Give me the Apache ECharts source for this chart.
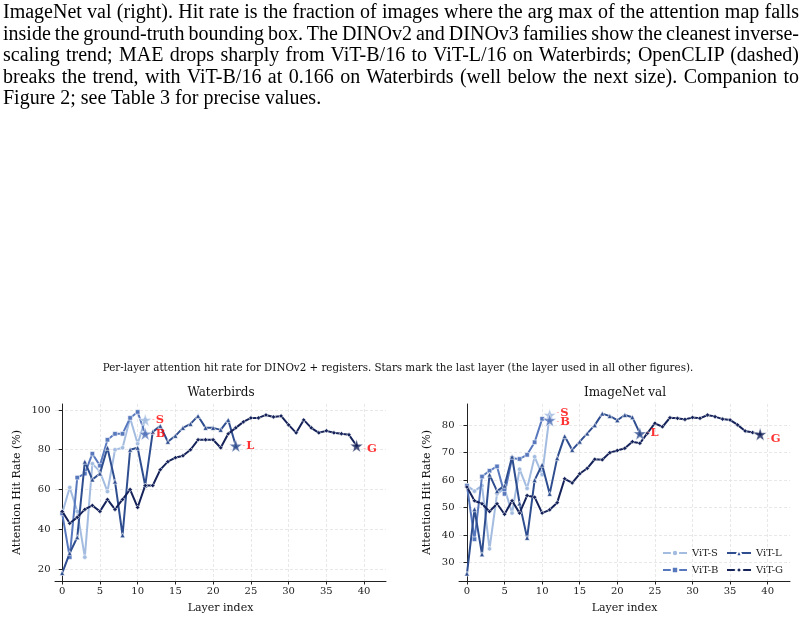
<!DOCTYPE html>
<html>
<head>
<meta charset="utf-8">
<script src="https://cdn.jsdelivr.net/npm/echarts@6/dist/echarts.min.js"></script>
<style>
  html, body { margin: 0; padding: 0; background: #fff; }
  #caption {
    position: absolute; left: 3px; top: 1px; width: 796px; z-index: 2;
    font-family: 'Liberation Serif', 'Times New Roman', serif;
    font-size: 20px; line-height: 21.5px; color: #000;
  }
  #caption .j { text-align: justify; text-align-last: justify; word-spacing: -3px; }
  #chart { position: absolute; left: 0; top: 0; width: 807px; height: 621px; }
</style>
</head>
<body>
<div id="caption">
  <div class="j">ImageNet val (right). Hit rate is the fraction of images where the arg max of the attention map falls</div>
  <div class="j">inside the ground-truth bounding box. The DINOv2 and DINOv3 families show the cleanest inverse-</div>
  <div class="j">scaling trend; MAE drops sharply from ViT-B/16 to ViT-L/16 on Waterbirds; OpenCLIP (dashed)</div>
  <div class="j">breaks the trend, with ViT-B/16 at 0.166 on Waterbirds (well below the next size). Companion to</div>
  <div>Figure 2; see Table 3 for precise values.</div>
</div>
<div id="chart"></div>
<script>
// ===== data =====
const seriesNames = ['ViT-S', 'ViT-B', 'ViT-L', 'ViT-G'];
const starTags    = ['S', 'B', 'L', 'G'];

// Waterbirds (left)
const wbS = [48, 61, 49, 26, 73, 69, 59, 80, 81, 96, 83, 95];
const wbB = [48, 26, 66, 68, 78, 72, 85, 88, 88, 96, 99, 88];
const wbL = [18, 28, 36, 74, 65, 68, 81, 64, 37, 80, 81, 62, 89, 92, 84, 87, 91, 93, 97, 91,
             91, 90, 95, 82];
const wbG = [49, 43, 46, 50, 52, 49, 55, 50, 55, 60, 51, 62, 62, 70, 74, 76, 77, 80, 85, 85,
             85, 81, 88, 91, 94, 96, 96, 97.5, 96.5, 97, 92.5, 88.5, 95, 91, 88.5, 89.5, 88.5, 88, 87.5, 82];

// ImageNet val (right)
const imS = [58, 56, 58, 35, 55, 57, 48, 64, 57, 68.5, 62, 83.7];
const imB = [58, 38.5, 61.3, 63.4, 65, 55, 68, 67.7, 69.2, 73.8, 82.3, 81.8];
const imL = [26, 49.4, 33, 62, 56, 58, 68.5, 51.5, 39, 60, 65.6, 55, 68, 76, 71, 74, 77, 80, 84.2, 83.3,
             81.8, 83.7, 82.9, 77];
const imG = [57.5, 52.5, 51.4, 48.6, 51.4, 47.6, 52.5, 48, 54.4, 53.8, 48, 49.2, 51.8, 60.5, 59, 62.3, 64.3, 67.6, 67.4, 70,
             70.8, 71.6, 74, 73.4, 77.1, 80.7, 79.4, 82.7, 82.5, 82.1, 82.8, 82.5, 83.7, 83.1, 82.2, 81.9, 80.1, 77.9, 77.3, 76.7];

const xTicks  = [0, 5, 10, 15, 20, 25, 30, 35, 40];
const wbTicks = [20, 40, 60, 80, 100];
const imTicks = [30, 40, 50, 60, 70, 80];

// ===== style =====
const colors  = ['#a3bce0', '#5878bd', '#2f4e8f', '#15235a'];
const symbols = ['circle', 'rect', 'triangle', 'diamond'];
const STAR = 'path://M50,0 L61.8,35.1 L97.6,35.1 L68.7,56.9 L79.4,91 L50,70 L20.6,91 L31.3,56.9 L2.4,35.1 L38.2,35.1 Z';
const FONT = 'DejaVu Serif';

function lineSeries(arr, k, g) {
  return {
    name: seriesNames[k], type: 'line', xAxisIndex: g, yAxisIndex: g,
    data: arr.map((v, i) => [i, v]),
    symbol: symbols[k], symbolSize: k === 2 ? 5 : 4.5,
    lineStyle: { color: colors[k], width: 2 },
    itemStyle: { color: colors[k], borderColor: '#fff', borderWidth: 0.6 },
    clip: false, z: 2 + k, silent: true
  };
}

function starSeries(list, g, nudge) {
  return {
    type: 'scatter', xAxisIndex: g, yAxisIndex: g, symbol: STAR, symbolSize: 13,
    data: list.map((arr, k) => ({
      value: [arr.length - 1, arr[arr.length - 1]],
      itemStyle: { color: colors[k] },
      label: { formatter: '{d|-}{t|' + starTags[k] + '}', offset: nudge[k] }
    })),
    itemStyle: { borderColor: '#fff', borderWidth: 0.6 },
    label: {
      show: true, position: 'right', distance: 0,
      rich: {
        d: { color: '#f66', fontSize: 8, fontFamily: FONT, padding: [0, 1, 0, 0] },
        t: { color: 'red', fontSize: 11.5, fontWeight: 'bold', fontFamily: FONT }
      }
    },
    clip: false, z: 10, silent: true
  };
}

function xAxisCfg(g, min, max) {
  return {
    gridIndex: g, type: 'value', min: min, max: max,
    name: 'Layer index', nameLocation: 'middle', nameGap: 22,
    nameTextStyle: { fontFamily: FONT, fontSize: 11, color: '#111' },
    axisLine: { lineStyle: { color: '#222', width: 1 } },
    axisTick: { show: true, length: 3.5, customValues: xTicks, lineStyle: { color: '#222' } },
    axisLabel: { customValues: xTicks, fontFamily: FONT, fontSize: 10, color: '#222', margin: 5.5 },
    splitLine: { show: true, lineStyle: { color: '#e2e2e2', type: [3, 2], width: 0.8 } }
  };
}

function yAxisCfg(g, min, max, ticks, gap) {
  return {
    gridIndex: g, type: 'value', min: min, max: max,
    name: 'Attention Hit Rate (%)', nameLocation: 'middle', nameGap: gap,
    nameTextStyle: { fontFamily: FONT, fontSize: 11, color: '#111' },
    axisLine: { show: true, lineStyle: { color: '#222', width: 1 } },
    axisTick: { show: true, length: 3.5, customValues: ticks, lineStyle: { color: '#222' } },
    axisLabel: { customValues: ticks, fontFamily: FONT, fontSize: 10, color: '#222', margin: 4.5 },
    splitLine: { show: true, lineStyle: { color: '#e2e2e2', type: [3, 2], width: 0.8 } }
  };
}

const chart = echarts.init(document.getElementById('chart'), null, { renderer: 'canvas' });

const option = {
  animation: false,
  backgroundColor: 'transparent',
  title: [
    { text: 'Per-layer attention hit rate for DINOv2 + registers. Stars mark the last layer (the layer used in all other figures).',
      left: 398, top: 363, textAlign: 'center', padding: 0,
      textStyle: { fontFamily: FONT, fontSize: 10.3, fontWeight: 'normal', color: '#111' } },
    { text: 'Waterbirds', left: 221, top: 387, textAlign: 'center', padding: 0,
      textStyle: { fontFamily: FONT, fontSize: 12, fontWeight: 'normal', color: '#111' } },
    { text: 'ImageNet val', left: 625, top: 387, textAlign: 'center', padding: 0,
      textStyle: { fontFamily: FONT, fontSize: 12, fontWeight: 'normal', color: '#111' } }
  ],
  legend: [
    { data: ['ViT-S', 'ViT-B'], orient: 'vertical', left: 662, top: 548, itemGap: 7,
      itemWidth: 24, itemHeight: 8, padding: 0,
      textStyle: { fontFamily: FONT, fontSize: 10, color: '#222' } },
    { data: ['ViT-L', 'ViT-G'], orient: 'vertical', left: 726, top: 548, itemGap: 7,
      itemWidth: 24, itemHeight: 8, padding: 0,
      textStyle: { fontFamily: FONT, fontSize: 10, color: '#222' } }
  ],
  grid: [
    { left: 55, top: 404, width: 331, height: 177, outerBoundsMode: 'none' },
    { left: 459, top: 404, width: 331, height: 177, outerBoundsMode: 'none' }
  ],
  xAxis: [xAxisCfg(0, -0.95, 42.9), xAxisCfg(1, -1.06, 42.97)],
  yAxis: [yAxisCfg(0, 14, 103, wbTicks, 32), yAxisCfg(1, 23.3, 87.7, imTicks, 26)],
  series: [
    lineSeries(wbS, 0, 0), lineSeries(wbB, 1, 0), lineSeries(wbL, 2, 0), lineSeries(wbG, 3, 0),
    lineSeries(imS, 0, 1), lineSeries(imB, 1, 1), lineSeries(imL, 2, 1), lineSeries(imG, 3, 1),
    starSeries([wbS, wbB, wbL, wbG], 0, [[0, 0], [0, 0], [0, 0], [0, 3]]),
    starSeries([imS, imB, imL, imG], 1, [[0, -2], [0, 2], [0, 0], [0, 5]])
  ]
};

chart.setOption(option);
</script>
</body>
</html>
